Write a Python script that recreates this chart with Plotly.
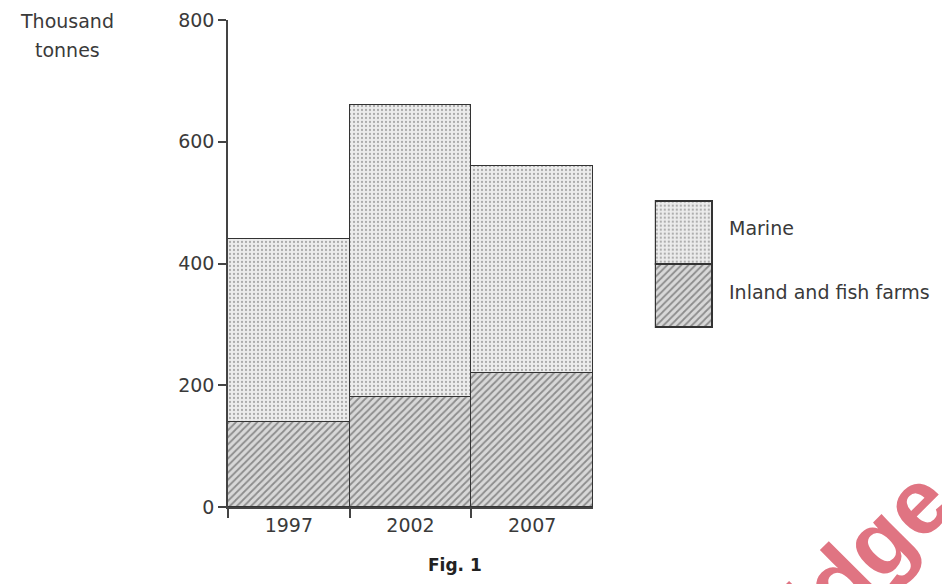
import plotly.graph_objects as go

years = ["1997", "2002", "2007"]
inland = [140, 180, 220]
marine = [300, 480, 340]
y_ticks = [0, 200, 400, 600, 800]

W, H = 942, 584
FONT = "DejaVu Sans, Liberation Sans, Arial, sans-serif"
INK = "#3a3a3a"

dots = dict(shape=".", fgcolor="#6a6a6a", bgcolor="#ececec", size=4, solidity=0.25)
hatch = dict(shape="/", fgcolor="#404040", bgcolor="#d8d8d8", size=5, solidity=0.35)
edge = dict(color="#333333", width=1.5)

fig = go.Figure()
fig.add_bar(x=years, y=inland, name="Inland and fish farms",
            marker=dict(color="#d8d8d8", pattern=hatch, line=edge))
fig.add_bar(x=years, y=marine, name="Marine",
            marker=dict(color="#ececec", pattern=dots, line=edge))

# legend drawn as a small stacked bar on its own axes
fig.add_bar(x=["k"], y=[1], xaxis="x2", yaxis="y2", showlegend=False,
            marker=dict(color="#d8d8d8", pattern=hatch, line=edge))
fig.add_bar(x=["k"], y=[1], xaxis="x2", yaxis="y2", showlegend=False,
            marker=dict(color="#ececec", pattern=dots, line=edge))


def px(x):
    return x / W


def py(y):
    return (H - 77 - y) / (H - 97)


fig.update_layout(
    width=W, height=H, barmode="stack", bargap=0,
    margin=dict(l=0, r=0, t=20, b=77),
    plot_bgcolor="white", paper_bgcolor="white", showlegend=False,
    font=dict(family=FONT, size=19, color=INK),
    xaxis=dict(domain=[px(228), px(593)], type="category", showline=True,
               linecolor="#444", linewidth=1.5, ticks="outside", tickson="boundaries",
               ticklen=9, tickcolor="#444", tickwidth=1.5, showgrid=False, zeroline=False,
               tickfont=dict(size=19, color=INK)),
    yaxis=dict(range=[0, 800], tickvals=y_ticks, showline=True, linecolor="#444",
               linewidth=1.5, ticks="outside", ticklen=8, tickcolor="#444", tickwidth=1.5,
               showgrid=False, zeroline=False, tickfont=dict(size=19, color=INK)),
    # padded a little so the box outline is not clipped
    xaxis2=dict(domain=[px(654.8), px(714.2)], anchor="y2", range=[-0.52, 0.52],
                visible=False),
    yaxis2=dict(domain=[py(329), py(199.7)], anchor="x2", range=[-0.015, 2.025],
                visible=False),
)

labels = [("Thousand", 67, 21), ("tonnes", 67, 50)]
for txt, x, y in labels:
    fig.add_annotation(text=txt, x=px(x), y=py(y), xref="paper", yref="paper",
                       xanchor="center", yanchor="middle", showarrow=False,
                       font=dict(size=19, color=INK))
fig.add_annotation(text="Marine", x=px(727), y=py(228), xref="paper", yref="paper",
                   xanchor="left", yanchor="middle", showarrow=False,
                   font=dict(size=19, color=INK))
fig.add_annotation(text="Inland and fish farms", x=px(727), y=py(292), xref="paper",
                   yref="paper", xanchor="left", yanchor="middle", showarrow=False,
                   font=dict(size=19, color=INK))
fig.add_annotation(text="<b>Fig. 1</b>", x=px(455), y=py(565), xref="paper", yref="paper",
                   xanchor="center", yanchor="middle", showarrow=False,
                   font=dict(size=17, color="#222"))
fig.add_annotation(text="<b>bridge</b>", x=px(834), y=py(585), xref="paper", yref="paper",
                   xanchor="center", yanchor="middle", showarrow=False, textangle=-45,
                   font=dict(family="Liberation Sans, Arial, sans-serif", size=92,
                             color="#e07482"))

fig.write_html("out.html", config={"displayModeBar": False},
               post_script="document.body.style.margin='0px';")
